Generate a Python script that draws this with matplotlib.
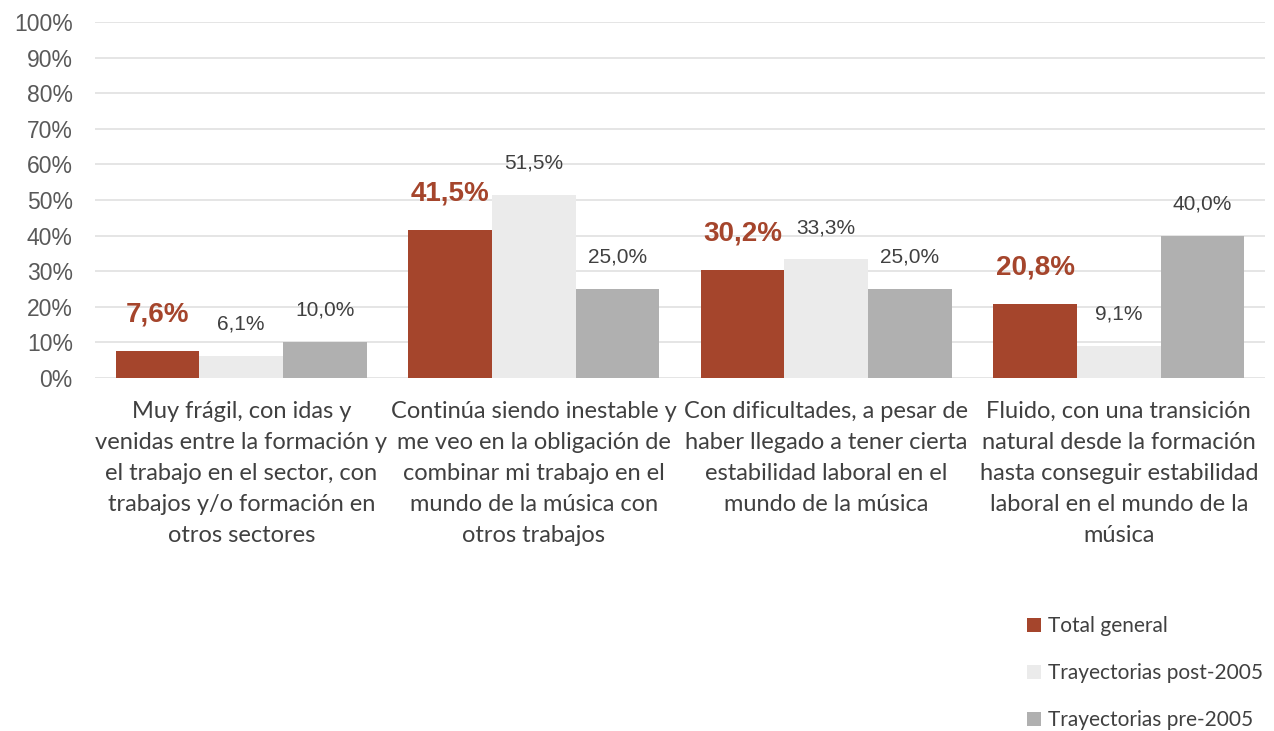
import matplotlib
matplotlib.use("Agg")
import matplotlib.pyplot as plt
from matplotlib.patches import Patch
import numpy as np

categories = [
    "Muy frágil, con idas y\nvenidas entre la formación y\nel trabajo en el sector, con\ntrabajos y/o formación en\notros sectores",
    "Continúa siendo inestable y\nme veo en la obligación de\ncombinar mi trabajo en el\nmundo de la música con\notros trabajos",
    "Con dificultades, a pesar de\nhaber llegado a tener cierta\nestabilidad laboral en el\nmundo de la música",
    "Fluido, con una transición\nnatural desde la formación\nhasta conseguir estabilidad\nlaboral en el mundo de la\nmúsica",
]
series_names = ["Total general", "Trayectorias post-2005", "Trayectorias pre-2005"]
total_general = [7.6, 41.5, 30.2, 20.8]
post_2005 = [6.1, 51.5, 33.3, 9.1]
pre_2005 = [10.0, 25.0, 25.0, 40.0]
yticks = [0, 10, 20, 30, 40, 50, 60, 70, 80, 90, 100]

colors = ["#A5452C", "#EBEBEB", "#B0B0B0"]

fig = plt.figure(figsize=(12.74, 7.31), dpi=100)
ax = fig.add_axes([95/1274, 1 - 378/731, 1170/1274, 356/731])

x = np.arange(len(categories))
w = 0.286
series = [total_general, post_2005, pre_2005]
for i, (vals, c, name) in enumerate(zip(series, colors, series_names)):
    pos = x + (i - 1) * w
    ax.bar(pos, vals, width=w, color=c, label=name, zorder=3)
    for p, v in zip(pos, vals):
        lbl = f"{v:.1f}%".replace(".", ",")
        if i == 0:
            ax.annotate(lbl, (p, v), xytext=(0, 26.5), textcoords="offset points",
                        ha="center", va="center", fontsize=20, fontweight="bold",
                        color="#A5452C", family="Liberation Sans")
        else:
            ax.annotate(lbl, (p, v), xytext=(0, 23), textcoords="offset points",
                        ha="center", va="center", fontsize=15,
                        color="#404040", family="Liberation Sans")

ax.set_xlim(-0.5, 3.5)
ax.set_ylim(0, 100)
ax.set_yticks(yticks)
ax.set_yticklabels([f"{t}%" for t in yticks], fontsize=16.5, color="#595959",
                   family="Liberation Sans")
ax.yaxis.grid(True, color="#E3E3E3", linewidth=1.3, zorder=0)
ax.set_axisbelow(True)
for s in ax.spines.values():
    s.set_visible(False)
ax.tick_params(axis="y", length=0, pad=16)
ax.tick_params(axis="x", length=0, pad=16.5)
ax.set_xticks(x)
ax.set_xticklabels(categories, fontsize=17, color="#404040", family="Lato",
                   linespacing=1.59, va="top")

handles = [Patch(facecolor=c, edgecolor="none") for c in colors]
leg = fig.legend(handles, series_names, loc="lower left",
                 bbox_to_anchor=(1015/1274, -0.016), frameon=False,
                 prop={"family": "Lato", "size": 15}, labelcolor="#404040",
                 handlelength=0.65, handleheight=0.65, handletextpad=0.35,
                 labelspacing=1.3, borderaxespad=0.2)

fig.savefig("out.png", dpi=100, facecolor="white")
